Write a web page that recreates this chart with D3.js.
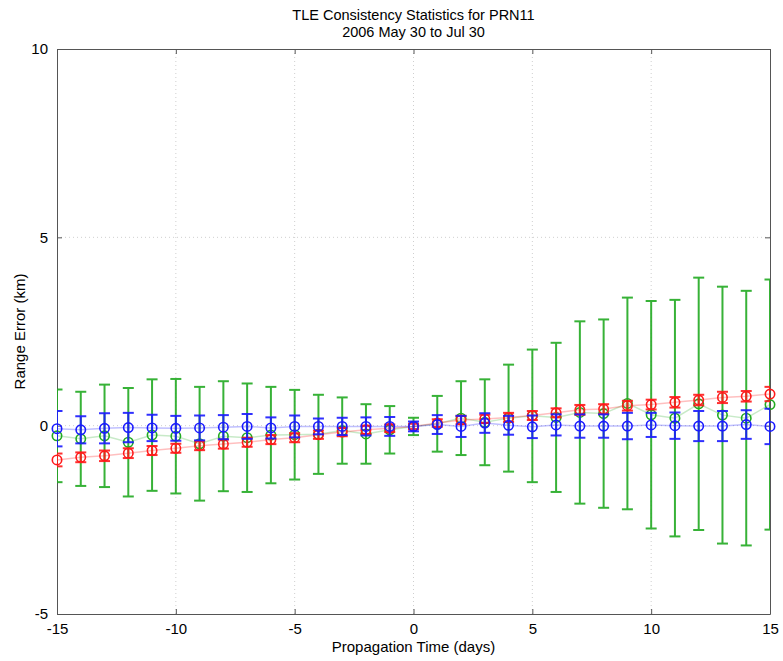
<!DOCTYPE html>
<html>
<head>
<meta charset="utf-8">
<script src="https://cdn.jsdelivr.net/npm/d3@7"></script>
<style>
  body { margin: 0; background: #fff; }
  svg text { font-family: "Liberation Sans", Arial, sans-serif; fill: #000; }
</style>
</head>
<body>
<svg id="chart" width="783" height="661"></svg>
<script>
// propagation days
var days = [-15,-14,-13,-12,-11,-10,-9,-8,-7,-6,-5,-4,-3,-2,-1,0,1,2,3,4,5,6,7,8,9,10,11,12,13,14,15];

// green series: mean and 1-sigma
var greenMean = [-0.27,-0.35,-0.27,-0.44,-0.25,-0.28,-0.48,-0.28,-0.32,-0.25,-0.24,-0.23,-0.13,-0.22,-0.11,-0.02,0.05,0.20,0.09,0.20,0.26,0.22,0.35,0.32,0.59,0.29,0.20,0.58,0.28,0.20,0.56];
var greenStd  = [1.23,1.25,1.36,1.44,1.48,1.52,1.51,1.46,1.44,1.28,1.19,1.05,0.88,0.79,0.63,0.23,0.74,0.98,1.14,1.42,1.76,1.98,2.42,2.50,2.81,3.02,3.14,3.35,3.41,3.38,3.32];

// red series
var redMean = [-0.91,-0.84,-0.80,-0.73,-0.66,-0.60,-0.53,-0.49,-0.44,-0.37,-0.32,-0.24,-0.17,-0.11,-0.07,-0.02,0.07,0.15,0.18,0.22,0.27,0.34,0.42,0.44,0.53,0.56,0.62,0.68,0.75,0.78,0.84];
var redStd  = [0.17,0.13,0.14,0.13,0.12,0.12,0.12,0.12,0.12,0.12,0.12,0.11,0.11,0.11,0.10,0.07,0.10,0.11,0.11,0.12,0.12,0.12,0.13,0.13,0.13,0.13,0.14,0.14,0.15,0.14,0.19];

// blue series
var blueMean = [-0.08,-0.11,-0.07,-0.05,-0.06,-0.07,-0.06,-0.04,-0.02,-0.06,-0.02,-0.02,-0.02,-0.02,-0.02,-0.02,0.03,-0.02,0.07,0.01,-0.03,0.02,-0.01,-0.01,-0.01,0.02,0.00,-0.01,-0.01,0.03,-0.02];
var blueStd  = [0.47,0.36,0.40,0.39,0.35,0.33,0.33,0.32,0.33,0.28,0.29,0.21,0.23,0.24,0.25,0.13,0.25,0.28,0.26,0.25,0.30,0.28,0.31,0.31,0.35,0.32,0.35,0.40,0.40,0.38,0.47];

var xTicks = [-15,-10,-5,0,5,10,15];
var yTicks = [-5,0,5,10];

var svg = d3.select("#chart");
var margin = {left: 57, right: 13, top: 49, bottom: 47};
var width = 783 - margin.left - margin.right;
var height = 661 - margin.top - margin.bottom;

var x = d3.scaleLinear().domain([-15, 15]).range([0, width]);
var y = d3.scaleLinear().domain([-5, 10]).range([height, 0]);

var g = svg.append("g")
    .attr("transform", "translate(" + margin.left + "," + margin.top + ")");

svg.append("defs").append("clipPath").attr("id", "plotClip")
    .append("rect").attr("width", width).attr("height", height);

// dotted grid
g.append("g").selectAll("line")
    .data(xTicks.slice(1, -1))
    .enter().append("line")
    .attr("x1", function(d) { return x(d); })
    .attr("x2", function(d) { return x(d); })
    .attr("y1", 0).attr("y2", height)
    .attr("stroke", "#cfcfcf")
    .attr("stroke-dasharray", "1,3");
g.append("g").selectAll("line")
    .data(yTicks.slice(1, -1))
    .enter().append("line")
    .attr("y1", function(d) { return y(d); })
    .attr("y2", function(d) { return y(d); })
    .attr("x1", 0).attr("x2", width)
    .attr("stroke", "#cfcfcf")
    .attr("stroke-dasharray", "1,3");

// plain hyphen minus like the original
var fmt = function(d) { return String(d); };

// axes, ticks pointing inwards
var bottomAxis = d3.axisBottom(x).tickValues(xTicks).tickSizeInner(-5).tickSizeOuter(0).tickPadding(9).tickFormat(fmt);
var topAxis = d3.axisTop(x).tickValues(xTicks).tickSizeInner(-5).tickSizeOuter(0).tickFormat("");
var leftAxis = d3.axisLeft(y).tickValues(yTicks).tickSizeInner(-5).tickSizeOuter(0).tickPadding(9).tickFormat(fmt);
var rightAxis = d3.axisRight(y).tickValues(yTicks).tickSizeInner(-5).tickSizeOuter(0).tickFormat("");

function styleAxis(sel) {
    sel.select(".domain").attr("stroke", "#555");
    sel.selectAll(".tick line").attr("stroke", "#555");
    sel.selectAll("text").attr("font-size", 15).attr("fill", "#000")
        .style("font-family", "'Liberation Sans', Arial, sans-serif");
}
g.append("g").attr("transform", "translate(0," + height + ")").call(bottomAxis).call(styleAxis);
g.append("g").call(topAxis).call(styleAxis);
g.append("g").call(leftAxis).call(styleAxis);
g.append("g").attr("transform", "translate(" + width + ",0)").call(rightAxis).call(styleAxis);

// series: green drawn first, blue on top
var series = [
    {color: "#22aa22", line: "rgba(34,170,34,0.25)", mean: greenMean, sd: greenStd},
    {color: "#ff1a1a", line: "rgba(255,0,0,0.25)", mean: redMean, sd: redStd},
    {color: "#1a1aff", line: "rgba(0,0,255,0.25)", mean: blueMean, sd: blueStd}
];
var capHalf = 5.5;

series.forEach(function(s) {
    var pts = days.map(function(d, i) { return {day: d, m: s.mean[i], sd: s.sd[i]}; });
    var sg = g.append("g");

    sg.append("path")
        .datum(pts)
        .attr("fill", "none")
        .attr("stroke", s.line)
        .attr("stroke-width", 1.5)
        .attr("d", d3.line().x(function(p) { return x(p.day); }).y(function(p) { return y(p.m); }));

    var bars = sg.append("g").attr("clip-path", "url(#plotClip)")
        .attr("stroke", s.color).attr("stroke-width", 2).attr("opacity", 0.9);
    bars.selectAll(".v").data(pts).enter().append("line")
        .attr("x1", function(p) { return x(p.day); })
        .attr("x2", function(p) { return x(p.day); })
        .attr("y1", function(p) { return y(p.m - p.sd); })
        .attr("y2", function(p) { return y(p.m + p.sd); });
    bars.selectAll(".t").data(pts).enter().append("line")
        .attr("x1", function(p) { return x(p.day) - capHalf; })
        .attr("x2", function(p) { return x(p.day) + capHalf; })
        .attr("y1", function(p) { return y(p.m + p.sd); })
        .attr("y2", function(p) { return y(p.m + p.sd); });
    bars.selectAll(".b").data(pts).enter().append("line")
        .attr("x1", function(p) { return x(p.day) - capHalf; })
        .attr("x2", function(p) { return x(p.day) + capHalf; })
        .attr("y1", function(p) { return y(p.m - p.sd); })
        .attr("y2", function(p) { return y(p.m - p.sd); });

    sg.selectAll("circle").data(pts).enter().append("circle")
        .attr("cx", function(p) { return x(p.day); })
        .attr("cy", function(p) { return y(p.m); })
        .attr("r", 4.7)
        .attr("fill", "none")
        .attr("stroke", s.color)
        .attr("stroke-width", 1.6);
});

// titles and labels
svg.append("text").attr("x", margin.left + width / 2).attr("y", 20)
    .attr("text-anchor", "middle").attr("font-size", 14.5)
    .text("TLE Consistency Statistics for PRN11");
svg.append("text").attr("x", margin.left + width / 2).attr("y", 37)
    .attr("text-anchor", "middle").attr("font-size", 14.5)
    .text("2006 May 30 to Jul 30");
svg.append("text").attr("x", margin.left + width / 2).attr("y", 652)
    .attr("text-anchor", "middle").attr("font-size", 15)
    .text("Propagation Time (days)");
svg.append("text")
    .attr("transform", "translate(25," + (margin.top + y(2.5)) + ") rotate(-90)")
    .attr("text-anchor", "middle").attr("font-size", 15)
    .text("Range Error (km)");
</script>
</body>
</html>
